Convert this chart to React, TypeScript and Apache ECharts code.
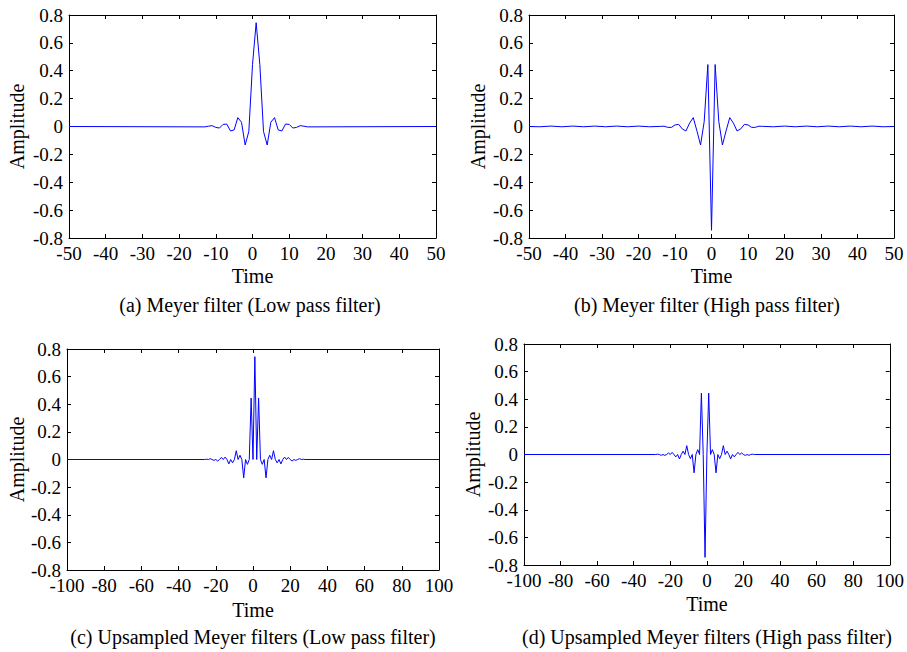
import React, { useEffect, useRef } from "react";
import * as echarts from "echarts";

// (a) Meyer low-pass filter
const timeA = [-50, -13, -12, -11, -10, -9, -8, -7, -6, -5, -4, -3, -2, -1, 0, 1, 2, 3, 4, 5, 6, 7, 8, 9, 10, 11, 12, 13, 14, 15, 50];
const ampA = [0, -0.0027, 0.0022, 0.006, -0.0064, -0.0111, 0.0153, 0.0174, -0.0321, -0.0243, 0.0637, 0.0307, -0.1328, -0.0351, 0.4446, 0.7446, 0.4446, -0.0351, -0.1328, 0.0307, 0.0637, -0.0243, -0.0321, 0.0174, 0.0153, -0.0111, -0.0064, 0.006, 0.0022, -0.0027, 0];

// (b) Meyer high-pass filter
const timeB = [-50, -47, -44, -41, -38, -35, -32, -29, -26, -23, -20, -17, -14, -13, -12, -11, -10, -9, -8, -7, -6, -5, -4, -3, -2, -1, 0, 1, 2, 3, 4, 5, 6, 7, 8, 9, 10, 11, 12, 13, 14, 17, 20, 23, 26, 29, 32, 35, 38, 41, 44, 47, 50];
const ampB = [0, -0.002, 0.003, -0.002, 0.003, -0.002, 0.003, -0.002, 0.003, -0.002, 0.003, -0.002, 0.001, 0.0022, -0.006, -0.0064, 0.0111, 0.0153, -0.0174, -0.0321, 0.0243, 0.0637, -0.0307, -0.1328, 0.0351, 0.4446, -0.7446, 0.4446, 0.0351, -0.1328, -0.0307, 0.0637, 0.0243, -0.0321, -0.0174, 0.0153, 0.0111, -0.0064, -0.006, 0.0022, 0.001, -0.002, 0.003, -0.002, 0.003, -0.002, 0.003, -0.002, 0.003, -0.002, 0.003, -0.002, 0];

// (c) Upsampled Meyer low-pass filter
const timeC = [-100, -26, -25, -24, -23, -22, -21, -20, -19, -18, -17, -16, -15, -14, -13, -12, -11, -10, -9, -8, -7, -6, -5, -4, -3, -2, -1, 0, 1, 2, 3, 4, 5, 6, 7, 8, 9, 10, 11, 12, 13, 14, 15, 16, 17, 18, 19, 20, 21, 22, 23, 24, 25, 26, 27, 28, 100];
const ampC = [0, 0, 0.0022, 0, 0.006, 0, -0.0064, 0, -0.0111, 0, 0.0153, 0, 0.0174, 0, -0.0321, 0, -0.0243, 0, 0.0637, 0, 0.0307, 0, -0.1328, 0, -0.0351, 0, 0.4446, 0, 0.7446, 0, 0.4446, 0, -0.0351, 0, -0.1328, 0, 0.0307, 0, 0.0637, 0, -0.0243, 0, -0.0321, 0, 0.0174, 0, 0.0153, 0, -0.0111, 0, -0.0064, 0, 0.006, 0, 0.0022, 0, 0];

// (d) Upsampled Meyer high-pass filter
const timeD = [-100, -28, -27, -26, -25, -24, -23, -22, -21, -20, -19, -18, -17, -16, -15, -14, -13, -12, -11, -10, -9, -8, -7, -6, -5, -4, -3, -2, -1, 0, 1, 2, 3, 4, 5, 6, 7, 8, 9, 10, 11, 12, 13, 14, 15, 16, 17, 18, 19, 20, 21, 22, 23, 24, 25, 26, 100];
const ampD = [0, 0, 0.0022, 0, -0.006, 0, -0.0064, 0, 0.0111, 0, 0.0153, 0, -0.0174, 0, -0.0321, 0, 0.0243, 0, 0.0637, 0, -0.0307, 0, -0.1328, 0, 0.0351, 0, 0.4446, 0, -0.7446, 0, 0.4446, 0, 0.0351, 0, -0.1328, 0, -0.0307, 0, 0.0637, 0, 0.0243, 0, -0.0321, 0, -0.0174, 0, 0.0153, 0, 0.0111, 0, -0.0064, 0, -0.006, 0, 0.0022, 0, 0];

const captions = [
  "(a) Meyer filter (Low pass filter)",
  "(b) Meyer filter (High pass filter)",
  "(c) Upsampled Meyer filters (Low pass filter)",
  "(d) Upsampled Meyer filters (High pass filter)",
];
const xAxisTitle = "Time";
const yAxisTitle = "Amplitude";
const xRanges = [
  [-50, 50, 10],
  [-50, 50, 10],
  [-100, 100, 20],
  [-100, 100, 20],
];
const yRange = [-0.8, 0.8, 0.2];

const FONT = "'Liberation Serif', 'Times New Roman', serif";
const TICK_FS = 19;
const LABEL_FS = 20;

export default function App() {
  const ref = useRef<HTMLDivElement>(null);
  useEffect(() => {
    if (!ref.current) return;
    const chart = echarts.init(ref.current, null, { renderer: "svg" });

    const grids = [
      { left: 69, top: 15, width: 367, height: 223 },
      { left: 529, top: 15, width: 365, height: 223 },
      { left: 67, top: 349, width: 372, height: 221 },
      { left: 524, top: 344, width: 370, height: 221 },
    ];
    const yNameGaps = [42, 41, 40, 41];
    const xNameGaps = [28, 28, 30, 29];
    const captionPos = [
      [250, 305],
      [707, 305],
      [253, 637],
      [707, 637],
    ];
    const series = [
      [timeA, ampA],
      [timeB, ampB],
      [timeC, ampC],
      [timeD, ampD],
    ];

    const lineStyle = { color: "#000", width: 1 };
    const xAxes: any[] = [];
    const yAxes: any[] = [];
    grids.forEach((g, i) => {
      const [mn, mx, iv] = xRanges[i];
      xAxes.push({
        type: "value",
        gridIndex: i,
        position: "bottom",
        min: mn,
        max: mx,
        interval: iv,
        name: xAxisTitle,
        nameLocation: "middle",
        nameGap: xNameGaps[i],
        nameTextStyle: { fontFamily: FONT, fontSize: LABEL_FS, color: "#000" },
        axisLine: { show: true, onZero: false, lineStyle },
        axisTick: { show: true, inside: true, length: 4, lineStyle },
        axisLabel: { fontFamily: FONT, fontSize: TICK_FS, color: "#000", margin: 6 },
        splitLine: { show: false },
      });
      xAxes.push({
        type: "value",
        gridIndex: i,
        position: "top",
        min: mn,
        max: mx,
        interval: iv,
        axisLine: { show: true, onZero: false, lineStyle },
        axisTick: { show: true, inside: true, length: 4, lineStyle },
        axisLabel: { show: false },
        splitLine: { show: false },
      });
      yAxes.push({
        type: "value",
        gridIndex: i,
        position: "left",
        min: yRange[0],
        max: yRange[1],
        interval: yRange[2],
        name: yAxisTitle,
        nameLocation: "middle",
        nameGap: yNameGaps[i],
        nameRotate: 90,
        nameTextStyle: { fontFamily: FONT, fontSize: LABEL_FS, color: "#000" },
        axisLine: { show: true, onZero: false, lineStyle },
        axisTick: { show: true, inside: true, length: 4, lineStyle },
        axisLabel: {
          fontFamily: FONT,
          fontSize: TICK_FS,
          color: "#000",
          margin: 6,
          formatter: (v: number) => String(Math.round(v * 10) / 10),
        },
        splitLine: { show: false },
      });
      yAxes.push({
        type: "value",
        gridIndex: i,
        position: "right",
        min: yRange[0],
        max: yRange[1],
        interval: yRange[2],
        axisLine: { show: true, onZero: false, lineStyle },
        axisTick: { show: true, inside: true, length: 4, lineStyle },
        axisLabel: { show: false },
        splitLine: { show: false },
      });
    });

    chart.setOption({
      animation: false,
      backgroundColor: "#fff",
      grid: grids.map((g) => ({ ...g, containLabel: false })),
      xAxis: xAxes,
      yAxis: yAxes,
      series: series.map(([t, a], i) => ({
        type: "line",
        xAxisIndex: i * 2,
        yAxisIndex: i * 2,
        data: t.map((x, k) => [x, a[k]]),
        showSymbol: false,
        symbol: "none",
        lineStyle: { color: "#0000ff", width: 1 },
      })),
      graphic: captions.map((c, i) => ({
        type: "text",
        x: captionPos[i][0],
        y: captionPos[i][1],
        style: {
          text: c,
          fontFamily: FONT,
          fontSize: LABEL_FS,
          fill: "#000",
          textAlign: "center",
          textVerticalAlign: "middle",
        },
      })),
    });
    return () => chart.dispose();
  }, []);
  return (
    <div
      ref={ref}
      style={{ position: "fixed", left: 0, top: 0, width: 907, height: 652, background: "#fff" }}
    />
  );
}
